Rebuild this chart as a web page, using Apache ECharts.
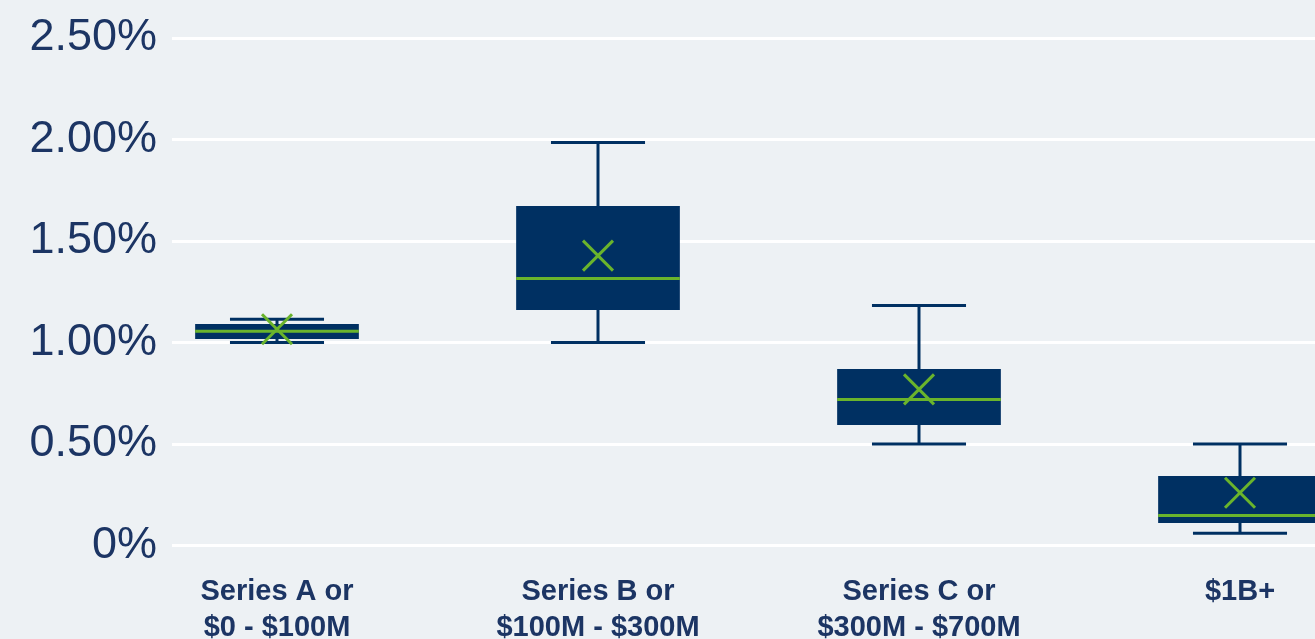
<!DOCTYPE html>
<html>
<head>
<meta charset="utf-8">
<script src="https://cdn.jsdelivr.net/npm/echarts@6/dist/echarts.min.js"></script>
<style>
  html, body { margin: 0; padding: 0; background: #edf1f4; overflow: hidden; }
  #chart { width: 1315px; height: 639px; }
</style>
</head>
<body>
<div id="chart"></div>
<script>
// Funding stage buckets (x axis)
const categories = [
  'Series A or\n$0 - $100M',
  'Series B or\n$100M - $300M',
  'Series C or\n$300M - $700M',
  '$1B+'
];
// Box-and-whisker statistics, in percent
const whiskerLow  = [1.00, 1.00, 0.50, 0.06];
const quartile1   = [1.017, 1.16, 0.594, 0.111];
const medians     = [1.055, 1.315, 0.719, 0.148];
const quartile3   = [1.091, 1.672, 0.869, 0.342];
const whiskerHigh = [1.114, 1.985, 1.182, 0.50];
const means       = [1.065, 1.428, 0.769, 0.26];
// Y axis ticks
const yTicks = [0, 0.5, 1.0, 1.5, 2.0, 2.5];

const NAVY = '#003062';
const GREEN = '#6ab42c';
const TEXT = '#1c3564';
const FONT = "'Liberation Sans', Arial, sans-serif";

const boxData = categories.map((c, i) => [
  i, whiskerLow[i], quartile1[i], medians[i], quartile3[i], whiskerHigh[i], means[i]
]);

function renderBox(params, api) {
  const i = api.value(0);
  const band = api.size([1, 0])[0];
  const boxW = band * 0.51;
  const capW = band * 0.293;
  const pLo = api.coord([i, api.value(1)]);
  const pQ1 = api.coord([i, api.value(2)]);
  const pMed = api.coord([i, api.value(3)]);
  const pQ3 = api.coord([i, api.value(4)]);
  const pHi = api.coord([i, api.value(5)]);
  const pMean = api.coord([i, api.value(6)]);
  const x = pMed[0];
  const lineStyle = { stroke: NAVY, lineWidth: 3, fill: null };
  const xs = 15;
  return {
    type: 'group',
    children: [
      { type: 'line', shape: { x1: x, y1: pHi[1], x2: x, y2: pQ3[1] }, style: lineStyle },
      { type: 'line', shape: { x1: x, y1: pQ1[1], x2: x, y2: pLo[1] }, style: lineStyle },
      { type: 'line', shape: { x1: x - capW / 2, y1: pHi[1], x2: x + capW / 2, y2: pHi[1] }, style: lineStyle },
      { type: 'line', shape: { x1: x - capW / 2, y1: pLo[1], x2: x + capW / 2, y2: pLo[1] }, style: lineStyle },
      { type: 'rect', shape: { x: x - boxW / 2, y: pQ3[1], width: boxW, height: pQ1[1] - pQ3[1] }, style: { fill: NAVY } },
      { type: 'line', shape: { x1: x - boxW / 2, y1: pMed[1], x2: x + boxW / 2, y2: pMed[1] }, style: { stroke: GREEN, lineWidth: 3 } },
      { type: 'line', shape: { x1: x - xs, y1: pMean[1] - xs, x2: x + xs, y2: pMean[1] + xs }, style: { stroke: GREEN, lineWidth: 3 } },
      { type: 'line', shape: { x1: x - xs, y1: pMean[1] + xs, x2: x + xs, y2: pMean[1] - xs }, style: { stroke: GREEN, lineWidth: 3 } }
    ]
  };
}

const chart = echarts.init(document.getElementById('chart'), null, { renderer: 'canvas' });
chart.setOption({
  backgroundColor: '#edf1f4',
  animation: false,
  textStyle: { fontFamily: FONT },
  grid: [
    // value scale with gridlines
    { left: 172, right: 0, top: 38, height: 507.5, containLabel: false, outerBoundsMode: 'none' },
    // category bands for the boxes
    { left: 116.5, width: 1284, top: 38, height: 507.5, containLabel: false, outerBoundsMode: 'none' }
  ],
  xAxis: [
    { gridIndex: 0, type: 'value', min: 0, max: 1, show: false },
    {
      gridIndex: 1, type: 'category', data: categories,
      axisLine: { show: false }, axisTick: { show: false }, splitLine: { show: false },
      axisLabel: {
        interval: 0, margin: 28, color: TEXT, fontFamily: FONT,
        fontSize: 29, fontWeight: 'bold', lineHeight: 36
      }
    }
  ],
  yAxis: [
    {
      gridIndex: 0, type: 'value', min: 0, max: 2.5, interval: 0.5,
      axisLine: { show: false }, axisTick: { show: false },
      splitLine: { show: true, lineStyle: { color: '#ffffff', width: 3 } },
      axisLabel: {
        margin: 15, color: TEXT, fontFamily: FONT, fontSize: 45,
        padding: [5, 0, 0, 0],
        formatter: v => (yTicks.indexOf(v) === 0 ? '0%' : v.toFixed(2) + '%')
      }
    },
    { gridIndex: 1, type: 'value', min: 0, max: 2.5, show: false }
  ],
  series: [
    {
      type: 'custom',
      xAxisIndex: 1,
      yAxisIndex: 1,
      clip: false,
      renderItem: renderBox,
      encode: { x: 0, y: [1, 2, 3, 4, 5, 6] },
      data: boxData
    }
  ]
});
</script>
</body>
</html>
